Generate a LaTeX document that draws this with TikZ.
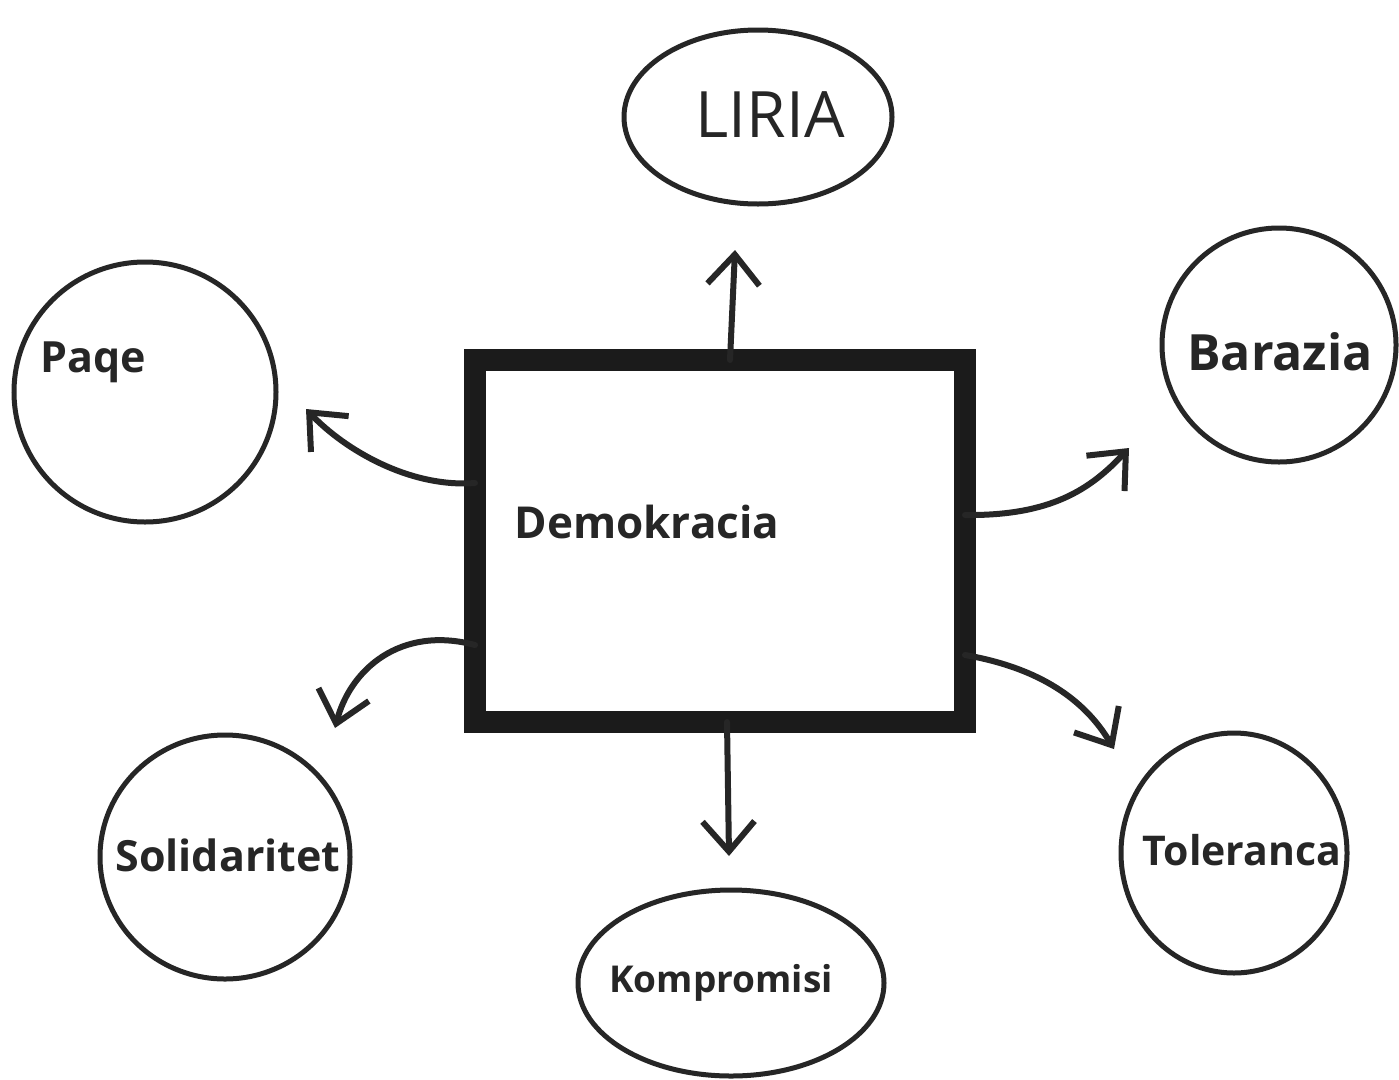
\documentclass[tikz,border=0pt]{standalone}
\usepackage{fontspec}
\setmainfont{Open Sans}
\usetikzlibrary{arrows.meta,shapes.geometric}
\definecolor{inkc}{RGB}{38,38,38}
\begin{document}
\begin{tikzpicture}[x=1pt,y=-1pt,
  bubble/.style={ellipse, draw=inkc, line width=5pt, inner sep=0pt, outer sep=0pt},
  conn/.style={draw=inkc, line width=6pt, line cap=round,
    -{Straight Barb[length=30pt,width=52pt,line width=6pt]}},
  lbl/.style={text=inkc, inner sep=0pt, font=\bfseries}]
\useasboundingbox (0,0) rectangle (1399,1079);
\fill[white] (0,0) rectangle (1399,1079);

% central box
\node[draw=inkc!70!black, line width=22pt, minimum width=490pt, minimum height=362pt,
  inner sep=0pt, outer sep=0pt] (box) at (720,541) {};
\node[lbl, font=\bfseries\fontsize{44}{50}\selectfont] (demo) at (647,522) {Demokracia};

% bubbles
\node[bubble, minimum width=268pt, minimum height=174pt] (liria) at (758,117) {};
\node[bubble, minimum width=262pt, minimum height=260pt] (paqe) at (145,392) {};
\node[bubble, minimum width=234pt, minimum height=234pt] (baraz) at (1279,345) {};
\node[bubble, minimum width=250pt, minimum height=244pt] (solid) at (225,857) {};
\node[bubble, minimum width=306pt, minimum height=186pt] (kompr) at (731,983) {};
\node[bubble, minimum width=226pt, minimum height=240pt] (toler) at (1234,853) {};

% labels
\node[lbl, font=\fontsize{64}{68}\selectfont] (tliria) at (770,115) {LIRIA};
\node[lbl, font=\bfseries\fontsize{43}{48}\selectfont] (tpaqe) at (93,362) {Paqe};
\node[lbl, font=\bfseries\fontsize{50}{56}\selectfont] (tbaraz) at (1280,352) {Barazia};
\node[lbl, font=\bfseries\fontsize{43}{50}\selectfont] (tsolid) at (228,855) {Solidaritet};
\node[lbl, font=\bfseries\fontsize{37}{42}\selectfont] (tkompr) at (721,983) {Kompromisi};
\node[lbl, font=\bfseries\fontsize{41}{46}\selectfont] (ttoler) at (1242,850) {Toleranca};

% arrow tips
\coordinate (aup) at (735,250);
\coordinate (adown) at (729,856);
\coordinate (apaqe) at (306,409);
\coordinate (abaraz) at (1129,448);
\coordinate (asolid) at (335,728);
\coordinate (atoler) at (1114,749);

% connectors
\draw[conn] ([xshift=10pt]box.north) -- (aup);
\draw[conn] ([xshift=7pt]box.south) -- (adown);
\draw[conn] ([yshift=58pt]box.west) .. controls (410,488) and (345,450) .. (apaqe);
\draw[conn] ([yshift=26pt]box.east) .. controls (1050,516) and (1090,490) .. (abaraz);
\draw[conn] ([yshift=-104pt]box.west) .. controls (400,625) and (350,670) .. (asolid);
\draw[conn] ([yshift=-114pt]box.east) .. controls (1040,668) and (1085,700) .. (atoler);
\end{tikzpicture}
\end{document}
